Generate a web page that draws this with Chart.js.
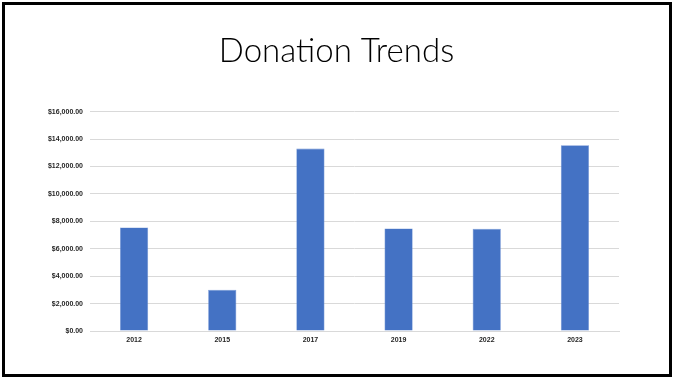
<!DOCTYPE html>
<html>
<head>
<meta charset="utf-8">
<script src="https://cdn.jsdelivr.net/npm/chart.js@4"></script>
<style>
html,body{margin:0;padding:0;background:#fff;}
#wrap{position:absolute;left:0;top:0;width:673px;height:378px;}
#frame{position:absolute;left:2px;top:2px;width:664px;height:369px;border:3px solid #000;pointer-events:none;}
canvas{position:absolute;left:0;top:0;}
</style>
</head>
<body>
<div id="wrap">
<canvas id="c" width="673" height="378"></canvas>
<div id="frame"></div>
</div>
<script>
const titleText = "Donation Trends";
const categories = ["2012", "2015", "2017", "2019", "2022", "2023"];
const donations = [7550, 3000, 13300, 7480, 7450, 13550];
const yMax = 16000;
const yStep = 2000;

const fmt = v => "$" + Number(v).toLocaleString("en-US", {minimumFractionDigits: 2, maximumFractionDigits: 2});

new Chart(document.getElementById("c"), {
  type: "bar",
  data: {
    labels: categories,
    datasets: [{
      label: "Donations",
      data: donations,
      backgroundColor: "#4472C4",
      borderColor: "#6f93d4",
      borderWidth: 0.6,
      barPercentage: 0.64,
      categoryPercentage: 0.5
    }]
  },
  options: {
    responsive: false,
    animation: false,
    devicePixelRatio: 1,
    layout: { padding: { left: 0, right: 0, top: 0, bottom: 0 } },
    plugins: {
      legend: { display: false },
      tooltip: { enabled: false },
      title: {
        display: true,
        text: titleText,
        color: "#000",
        font: { family: "Lato", size: 33, weight: 300, lineHeight: 1.2 },
        padding: { top: 32, bottom: 40 }
      }
    },
    scales: {
      x: {
        grid: { display: false, drawTicks: false },
        border: { display: true, color: "#d9d9d9", width: 1 },
        ticks: {
          color: "#262626",
          font: { family: "Liberation Sans", size: 7, weight: "bold" },
          padding: 5,
          maxRotation: 0
        },
        afterFit: s => { s.height = 47; }
      },
      y: {
        min: 0,
        max: yMax,
        grid: { color: "#d9d9d9", lineWidth: 1, drawTicks: false },
        border: { display: false },
        ticks: {
          stepSize: yStep,
          color: "#262626",
          font: { family: "Liberation Sans", size: 7, weight: "bold" },
          padding: 7,
          callback: v => fmt(v)
        },
        afterFit: s => { s.width = 90; }
      },
      yRight: {
        position: "right",
        display: true,
        grid: { display: false, drawTicks: false },
        border: { display: false },
        ticks: { display: false },
        afterFit: s => { s.width = 54; }
      }
    }
  }
});
</script>
</body>
</html>
